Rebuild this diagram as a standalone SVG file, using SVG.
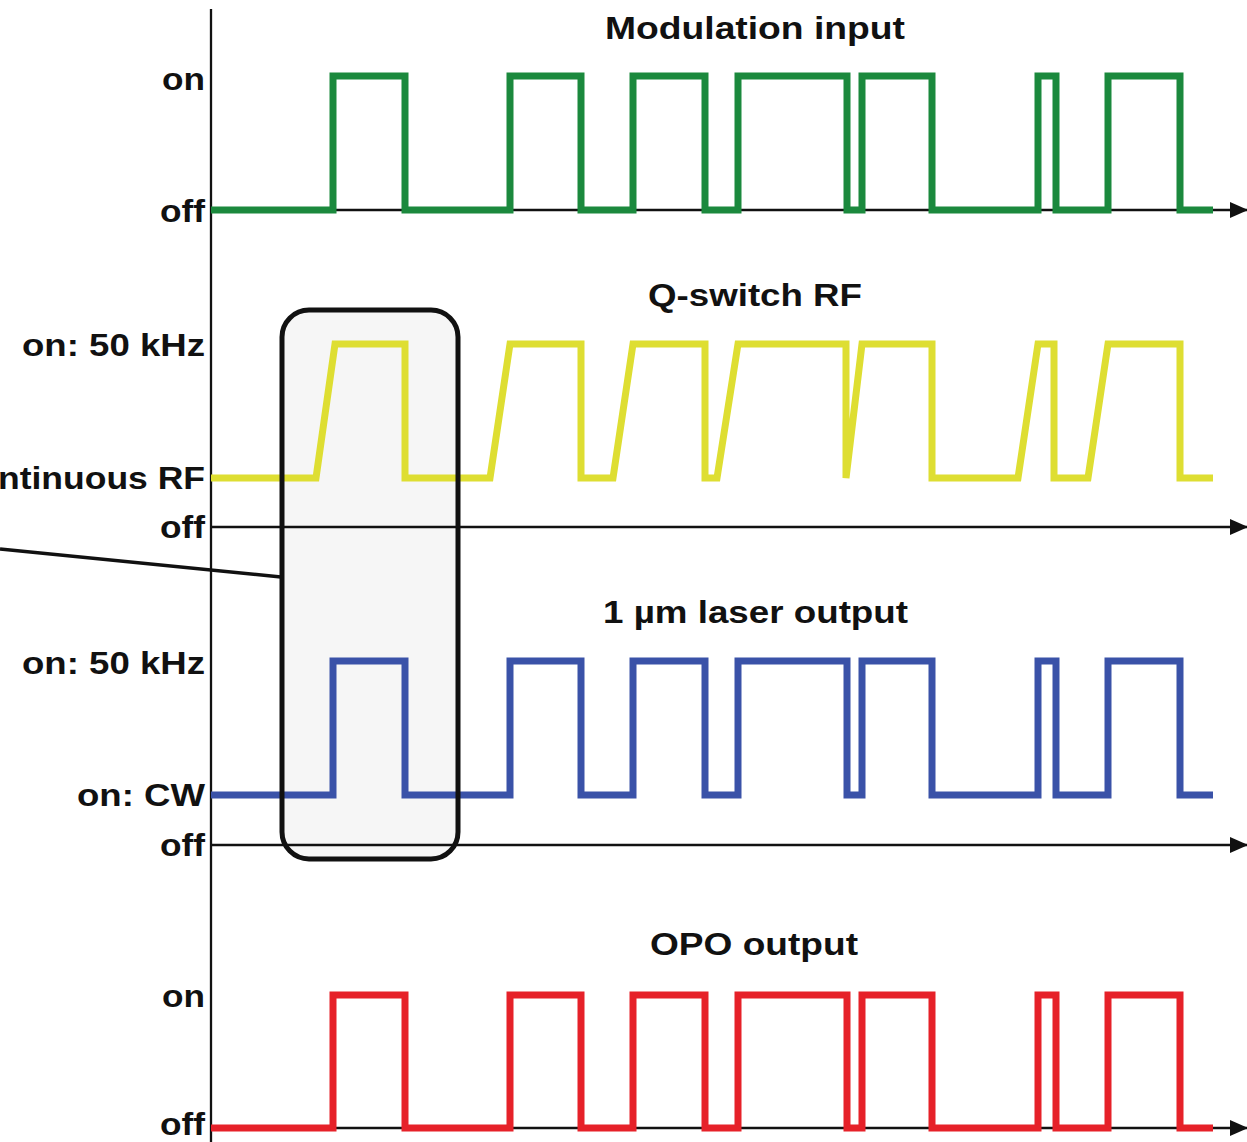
<svg xmlns="http://www.w3.org/2000/svg" width="1247" height="1142" viewBox="0 0 1247 1142">
<defs>
<style>
text{font-family:"Liberation Sans",Arial,sans-serif;font-weight:bold;font-size:32px;fill:#111}
.ax{stroke:#111;stroke-width:2.3;fill:none}
.wave{fill:none;stroke-width:7;stroke-linejoin:miter;stroke-linecap:butt}
</style>
<marker id="arr" viewBox="0 0 18 16" refX="17" refY="8" markerWidth="18" markerHeight="16" markerUnits="userSpaceOnUse" orient="auto">
<path d="M0,0 L18,8 L0,16 Z" fill="#111"/>
</marker>
</defs>
<rect width="1247" height="1142" fill="#fff"/>

<g id="box-fill">
<rect x="282" y="310" width="176" height="549" rx="27" ry="27" fill="#f6f6f6"/>
</g>

<g id="axes">
<line class="ax" x1="211" y1="9" x2="211" y2="1142"/>
<line class="ax" x1="211" y1="210" x2="1247" y2="210" marker-end="url(#arr)"/>
<line class="ax" x1="211" y1="527" x2="1247" y2="527" marker-end="url(#arr)"/>
<line class="ax" x1="211" y1="845" x2="1247" y2="845" marker-end="url(#arr)"/>
<line class="ax" x1="211" y1="1128" x2="1247" y2="1128" marker-end="url(#arr)"/>
</g>

<g id="modulation-input">
<text x="605" y="39" textLength="300" lengthAdjust="spacingAndGlyphs">Modulation input</text>
<text x="162" y="90" textLength="43" lengthAdjust="spacingAndGlyphs">on</text>
<text x="160" y="222" textLength="45" lengthAdjust="spacingAndGlyphs">off</text>
<path class="wave" stroke="#1b893d" d="M211,210 H333 V76 H405 V210 H510 V76 H581 V210 H633 V76 H705 V210 H738 V76 H847 V210 H862 V76 H932 V210 H1038 V76 H1056 V210 H1108 V76 H1180 V210 H1213"/>
</g>

<g id="qswitch-rf">
<text x="648" y="306" textLength="214" lengthAdjust="spacingAndGlyphs">Q-switch RF</text>
<text x="22" y="356" textLength="183" lengthAdjust="spacingAndGlyphs">on: 50 kHz</text>
<text x="-2" y="489" textLength="207" lengthAdjust="spacingAndGlyphs">ntinuous RF</text>
<text x="160" y="538" textLength="45" lengthAdjust="spacingAndGlyphs">off</text>
<path class="wave" stroke="#dede32" d="M211,478 H316 L335,344 H405 V478 H490 L510,344 H581 V478 H613 L633,344 H705 V478 H717 L738,344 H846 V478 L862,344 H932 V478 H1018 L1038,344 H1054 V478 H1088 L1108,344 H1180 V478 H1213"/>
</g>

<g id="laser-output">
<text x="603" y="623" textLength="305" lengthAdjust="spacingAndGlyphs">1 µm laser output</text>
<text x="22" y="674" textLength="183" lengthAdjust="spacingAndGlyphs">on: 50 kHz</text>
<text x="77" y="806" textLength="128" lengthAdjust="spacingAndGlyphs">on: CW</text>
<text x="160" y="856" textLength="45" lengthAdjust="spacingAndGlyphs">off</text>
<path class="wave" stroke="#3a52a8" d="M211,795 H333 V661 H405 V795 H510 V661 H581 V795 H633 V661 H705 V795 H738 V661 H847 V795 H862 V661 H932 V795 H1038 V661 H1056 V795 H1108 V661 H1180 V795 H1213"/>
</g>

<g id="opo-output">
<text x="650" y="955" textLength="208" lengthAdjust="spacingAndGlyphs">OPO output</text>
<text x="162" y="1007" textLength="43" lengthAdjust="spacingAndGlyphs">on</text>
<text x="160" y="1135" textLength="45" lengthAdjust="spacingAndGlyphs">off</text>
<path class="wave" stroke="#e62129" d="M211,1128 H333 V995 H405 V1128 H510 V995 H581 V1128 H633 V995 H705 V1128 H738 V995 H847 V1128 H862 V995 H932 V1128 H1038 V995 H1056 V1128 H1108 V995 H1180 V1128 H1213"/>
</g>

<g id="connectors">
<line x1="0" y1="549" x2="281" y2="577" stroke="#111" stroke-width="3.5"/>
</g>

<g id="highlight-box">
<rect x="282" y="310" width="176" height="549" rx="27" ry="27" fill="none" stroke="#111" stroke-width="5"/>
</g>
</svg>
